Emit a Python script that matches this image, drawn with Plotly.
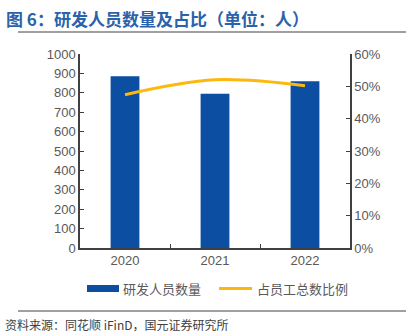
import plotly.graph_objects as go

years = ["2020", "2021", "2022"]
staff = [885, 795, 860]
ratio = [0.474, 0.52, 0.502]

W, H = 413, 336
L, R, T, B = 80, 63, 54, 88
pw, ph = W - L - R, H - T - B

def px(x):
    return (x - L) / pw

def py(y):
    return (H - B - y) / ph

fig = go.Figure()
fig.add_trace(go.Bar(x=years, y=staff, name="研发人员数量", marker_color="#0b4ea2",
                     marker_line_width=0, yaxis="y"))
fig.add_trace(go.Scatter(x=years, y=ratio, name="占员工总数比例", mode="lines",
                         line=dict(color="#fbb910", width=3, shape="spline", smoothing=1.0),
                         yaxis="y2"))

tickfont = dict(family="Liberation Sans, Arial", size=13, color="#595959")
fig.update_layout(
    width=W, height=H,
    margin=dict(l=L, r=R, t=T, b=B),
    paper_bgcolor="white", plot_bgcolor="white",
    bargap=0.68,
    showlegend=False,
    xaxis=dict(showline=True, linecolor="#404040", linewidth=1.5, ticks="inside",
               tickson="boundaries", ticklen=4, tickcolor="#404040", tickfont=tickfont,
               showgrid=False, fixedrange=True),
    yaxis=dict(range=[0, 1000], dtick=100, showline=True, linecolor="#404040", linewidth=1.5,
               ticks="inside", ticklen=4, tickcolor="#404040", tickfont=tickfont,
               showgrid=False, zeroline=False),
    yaxis2=dict(range=[0, 0.6], dtick=0.1, tickformat=".0%", overlaying="y", side="right",
                showline=True, linecolor="#404040", linewidth=1.5, ticks="inside", ticklen=4,
                tickcolor="#404040", tickfont=tickfont, showgrid=False, zeroline=False),
    font=dict(family="Noto Sans CJK SC"),
)

# legend drawn manually
fig.add_shape(type="rect", xref="paper", yref="paper", x0=px(87), x1=px(119), y0=py(285), y1=py(292),
              fillcolor="#0b4ea2", line_width=0)
fig.add_annotation(text=fig.data[0].name, xref="paper", yref="paper", x=px(121), y=py(288.5),
                   xanchor="left", yanchor="middle", showarrow=False,
                   font=dict(family="Noto Sans CJK SC", size=13, color="#595959"))
fig.add_shape(type="line", xref="paper", yref="paper", x0=px(219), x1=px(252), y0=py(288.5), y1=py(288.5),
              line=dict(color="#fbb910", width=3))
fig.add_annotation(text=fig.data[1].name, xref="paper", yref="paper", x=px(255), y=py(288.5),
                   xanchor="left", yanchor="middle", showarrow=False,
                   font=dict(family="Noto Sans CJK SC", size=13, color="#595959"))

fig.add_annotation(text="<b>图 6：研发人员数量及占比（单位：人）</b>", xref="paper", yref="paper",
                   x=px(4), y=py(18), xanchor="left", yanchor="middle", showarrow=False,
                   font=dict(family="Noto Sans CJK SC", size=17, color="#2a62ab"))
fig.add_annotation(text="资料来源：同花顺 iFinD，国元证券研究所", xref="paper", yref="paper",
                   x=px(3), y=py(324), xanchor="left", yanchor="middle", showarrow=False,
                   font=dict(family="Noto Sans CJK SC", size=12, color="#404040"))
fig.add_shape(type="line", xref="paper", yref="paper", x0=px(18), x1=px(406), y0=py(32), y1=py(32),
              line=dict(color="#808080", width=1.5))
fig.add_shape(type="line", xref="paper", yref="paper", x0=px(18), x1=px(406), y0=py(311), y1=py(311),
              line=dict(color="#808080", width=1.5))

fig.write_html("out.html")
